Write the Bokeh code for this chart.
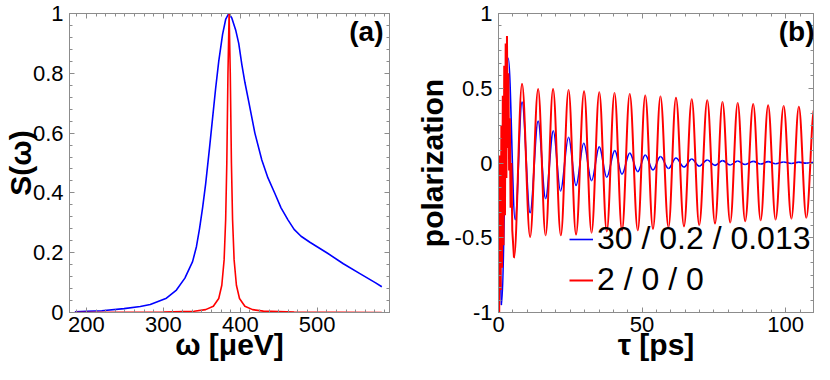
from bokeh.plotting import figure
from bokeh.layouts import row
from bokeh.models import (LinearAxis, SingleIntervalTicker, CustomJSTickFormatter,
                          Label, Legend, LegendItem, ColumnDataSource, Range1d)
from bokeh.embed import file_html
from bokeh.resources import INLINE

# ---------------- data ----------------
# panel (a): spectrum S(omega)
omega_blue = [185, 200, 220, 249, 270, 283, 304, 317, 328, 338, 343, 347, 351, 355, 360,
              364, 368, 372, 377, 381, 385, 389, 394, 398, 402, 406, 411, 419, 428, 436,
              445, 453, 462, 470, 479, 491, 513, 534, 555, 576, 584]
s_blue = [0.002, 0.004, 0.006, 0.013, 0.02, 0.027, 0.048, 0.075, 0.115, 0.17, 0.22, 0.28,
          0.35, 0.43, 0.55, 0.65, 0.75, 0.84, 0.93, 0.98, 1.0, 0.985, 0.945, 0.90, 0.83,
          0.77, 0.705, 0.60, 0.51, 0.45, 0.398, 0.35, 0.31, 0.278, 0.255, 0.234, 0.199,
          0.163, 0.131, 0.099, 0.086]
omega_red = [185, 300, 340, 355, 365, 372, 376, 379, 381, 382.5, 384, 385.5, 387, 388.5,
             390, 392, 395, 399, 406, 416, 430, 470, 584]
s_red = [0.0002, 0.0012, 0.0043, 0.0096, 0.021, 0.047, 0.091, 0.176, 0.31, 0.5, 0.8, 1.0,
         0.8, 0.5, 0.31, 0.176, 0.091, 0.047, 0.021, 0.0096, 0.0045, 0.0013, 0.0002]

# panel (b): polarization vs tau
# red (2 / 0 / 0): fast initial part, then successive extrema
red_early_t = [0.0, 0.25, 0.5, 0.75, 1.0, 1.25, 1.5, 1.75, 2.0, 2.25, 2.5, 2.75, 2.95,
               3.2, 3.45, 3.7, 3.95, 4.2, 4.5, 4.8, 5.4]
red_early_p = [0.0, -1.0, 0.05, -0.85, 0.25, -0.7, 0.45, -0.55, 0.65, -0.35, 0.8, -0.1,
               0.85, 0.1, 0.6, -0.05, 0.3, -0.3, 0.0, -0.45, -0.634]
red_ext_t = [5.4, 8.2, 11.0, 13.8, 16.4, 19.0, 21.7, 24.4, 27.0, 29.8, 32.4, 35.1, 37.7,
             40.4, 43.0, 45.7, 48.5, 51.1, 53.8, 56.4, 59.2, 61.8, 64.6, 67.3, 69.9, 72.7,
             75.4, 78.0, 80.7, 83.3, 85.9, 88.7, 91.3, 93.9, 96.5, 99.3, 102.0, 104.6,
             107.2, 110.0]
red_ext_p = [-0.634, 0.53, -0.495, 0.495, -0.484, 0.495, -0.484, 0.488, -0.479, 0.48,
             -0.466, 0.473, -0.458, 0.469, -0.452, 0.462, -0.45, 0.452, -0.441, 0.445,
             -0.43, 0.437, -0.424, 0.426, -0.415, 0.419, -0.405, 0.408, -0.398, 0.402,
             -0.389, 0.394, -0.383, 0.387, -0.378, 0.381, -0.372, 0.376, -0.366, 0.37]
# blue (30 / 0.2 / 0.013)
blue_early_t = [0.0, 0.4, 1.0]
blue_early_p = [0.0, -0.55, -0.95]
blue_ext_t = [1.0, 3.4, 5.8, 8.2, 11.0, 13.8, 16.4, 19.1, 21.6, 24.4, 27.0, 29.7, 32.4,
              35.1, 37.7, 40.5, 43.0, 45.7, 48.5, 51.1, 53.8, 56.4, 59.2, 61.8, 64.6, 67.3,
              69.9, 72.7, 75.4, 78.0, 80.7, 83.3, 85.9, 88.7, 91.3, 93.9, 96.5, 99.3,
              102.0, 104.6, 107.2, 110.0]
blue_ext_p = [-0.95, 0.70, -0.38, 0.408, -0.333, 0.28, -0.237, 0.215, -0.187, 0.172,
              -0.15, 0.132, -0.118, 0.108, -0.095, 0.083, -0.075, 0.066, -0.058, 0.054,
              -0.047, 0.043, -0.037, 0.033, -0.027, 0.027, -0.021, 0.02, -0.016, 0.016,
              -0.013, 0.013, -0.01, 0.011, -0.007, 0.009, -0.005, 0.007, -0.003, 0.006,
              -0.001, 0.005]

legend_labels = ["30 / 0.2 / 0.013", "2 / 0 / 0"]

# ---------------- styling helpers ----------------
FONT = "Liberation Sans"
GRAY = "#8c8c8c"
BLUE = "#0000ff"
RED = "#ff0000"


def style_axis(ax, interval, minor, labels=True):
    ax.ticker = SingleIntervalTicker(interval=interval, num_minor_ticks=minor)
    ax.axis_line_color = GRAY
    ax.major_tick_line_color = GRAY
    ax.minor_tick_line_color = GRAY
    ax.major_tick_in = 5
    ax.major_tick_out = 0
    ax.minor_tick_in = 3
    ax.minor_tick_out = 0
    if labels:
        ax.formatter = CustomJSTickFormatter(code="return String(Math.round(tick*100)/100);")
        ax.major_label_text_font = FONT
        ax.major_label_text_font_size = "22px"
        ax.major_label_text_color = "black"
        ax.axis_label_text_font = FONT
        ax.axis_label_text_font_size = "30px"
        ax.axis_label_text_font_style = "bold"
        ax.axis_label_text_color = "black"
    else:
        ax.formatter = CustomJSTickFormatter(code="return '';")
        ax.major_label_text_font_size = "0px"
        ax.major_label_standoff = 0


def make_fig(width, xr, yr, bl, br):
    p = figure(width=width, height=364, x_range=Range1d(*xr), y_range=Range1d(*yr),
               output_backend="svg", toolbar_location=None,
               min_border_left=bl, min_border_right=br, min_border_top=13,
               min_border_bottom=52)
    p.xgrid.visible = False
    p.ygrid.visible = False
    p.outline_line_color = GRAY
    p.background_fill_color = "white"
    p.border_fill_color = "white"
    return p


def add_frame_axes(p, xint, xminor, yint, yminor):
    top = LinearAxis()
    right = LinearAxis()
    p.add_layout(top, "above")
    p.add_layout(right, "right")
    style_axis(top, xint, xminor, labels=False)
    style_axis(right, yint, yminor, labels=False)


def bezier_source(ts, ps):
    k = 0.3634
    x0 = ts[:-1]
    x1 = ts[1:]
    y0 = ps[:-1]
    y1 = ps[1:]
    cx0 = [a + k * (b - a) for a, b in zip(x0, x1)]
    cx1 = [b - k * (b - a) for a, b in zip(x0, x1)]
    return ColumnDataSource(dict(x0=x0, y0=y0, x1=x1, y1=y1, cx0=cx0, cy0=y0, cx1=cx1, cy1=y1))


# ---------------- panel (a) ----------------
p1 = make_fig(412, (178, 594), (0, 1), 63, 23)
style_axis(p1.xaxis[0], 100, 8)
style_axis(p1.yaxis[0], 0.2, 5)
p1.xaxis[0].axis_label = "ω [μeV]"
p1.yaxis[0].axis_label = "S(ω)"
p1.xaxis[0].major_label_standoff = 4
p1.xaxis[0].axis_label_standoff = -7
p1.yaxis[0].major_label_standoff = 6
p1.yaxis[0].axis_label_standoff = -7
add_frame_axes(p1, 100, 8, 0.2, 5)

p1.line(omega_blue, s_blue, line_color=BLUE, line_width=1.6, line_join="round")
p1.line(omega_red, s_red, line_color=RED, line_width=1.6, line_join="round")
p1.add_layout(Label(x=314, y=297, x_units="screen", y_units="screen", text="(a)",
                    text_font=FONT, text_font_size="28px", text_font_style="bold",
                    text_align="right", text_baseline="top", text_color="black"))

# ---------------- panel (b) ----------------
p2 = make_fig(402, (0, 109.7), (-1, 1), 81, 1)
style_axis(p2.xaxis[0], 50, 10)
style_axis(p2.yaxis[0], 0.5, 6)
p2.xaxis[0].axis_label = "τ [ps]"
p2.yaxis[0].axis_label = "polarization"
p2.xaxis[0].major_label_standoff = 4
p2.xaxis[0].axis_label_standoff = -7
p2.yaxis[0].major_label_standoff = 6
p2.yaxis[0].axis_label_standoff = 3
add_frame_axes(p2, 50, 10, 0.5, 6)

r_blue = p2.line(blue_early_t, blue_early_p, line_color=BLUE, line_width=1.6)
p2.bezier(x0="x0", y0="y0", x1="x1", y1="y1", cx0="cx0", cy0="cy0", cx1="cx1", cy1="cy1",
          source=bezier_source(blue_ext_t, blue_ext_p), line_color=BLUE, line_width=1.6)
r_red = p2.line(red_early_t, red_early_p, line_color=RED, line_width=2)
p2.bezier(x0="x0", y0="y0", x1="x1", y1="y1", cx0="cx0", cy0="cy0", cx1="cx1", cy1="cy1",
          source=bezier_source(red_ext_t, red_ext_p), line_color=RED, line_width=2)

legend = Legend(items=[LegendItem(label=legend_labels[0], renderers=[r_blue]),
                       LegendItem(label=legend_labels[1], renderers=[r_red])],
                location=(71, 14), background_fill_alpha=0, border_line_alpha=0,
                label_text_font=FONT, label_text_font_size="32px", label_text_color="black",
                glyph_width=24, glyph_height=36, label_height=36, spacing=4,
                padding=0, margin=0, label_standoff=4)
p2.add_layout(legend)
p2.add_layout(Label(x=316, y=297, x_units="screen", y_units="screen", text="(b)",
                    text_font=FONT, text_font_size="28px", text_font_style="bold",
                    text_align="right", text_baseline="top", text_color="black"))

layout = row(p1, p2)
open("out.html", "w").write(file_html(layout, INLINE))
